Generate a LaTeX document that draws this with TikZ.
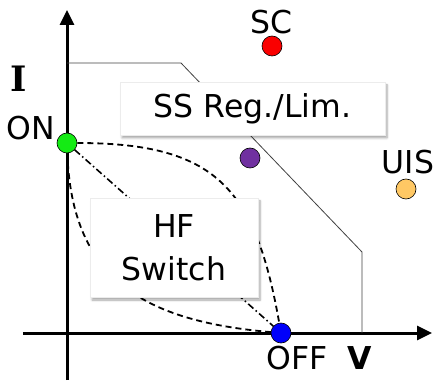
\documentclass[tikz,border=0pt]{standalone}
\usepackage{fontspec}
\setmainfont{DejaVu Sans}
\newfontfamily\serifbf{DejaVu Serif}
\usetikzlibrary{arrows.meta,shadows.blur}
\definecolor{verdeon}{RGB}{20,235,20}
\definecolor{rojosc}{RGB}{250,0,0}
\definecolor{moradoss}{RGB}{112,48,160}
\definecolor{naranjauis}{RGB}{255,200,100}
\definecolor{azuloff}{RGB}{0,0,250}
\begin{document}
\begin{tikzpicture}[x=1pt, y=1pt,
    estado/.style={draw, circle, minimum size=20pt, inner sep=0pt, line width=0.6pt},
    texto/.style={font=\fontsize{31.5}{36}\selectfont, inner sep=0pt},
    caja/.style={fill=white, draw=gray!15, inner sep=0pt, align=center,
        font=\fontsize{31.5}{43}\selectfont,
        blur shadow={shadow xshift=2pt, shadow yshift=-3pt, shadow blur steps=6, shadow opacity=35}},
    trayecto/.style={line width=1.8pt, dash pattern=on 6pt off 4pt},
    >={Triangle[length=15pt, width=14pt]}]
    \useasboundingbox (-67,-47) rectangle (369,333);

    % Ejes
    \draw[->, line width=3pt] (0,-47) -- (0,323);
    \draw[->, line width=3pt] (-44,0) -- (365,0);
    \node[texto, font=\fontsize{35}{40}\selectfont] (ejeI) at (-48,254) {\serifbf\bfseries I};
    \node[texto] (ejeV) at (293,-25) {\bfseries V};

    % Curva limite
    \draw[black!75, line width=0.8pt] (0,270) -- (114,270) -- (295,81) -- (295,0);

    % Caja SS
    \node[caja, minimum width=265pt, minimum height=53pt] (ss) at (185.5,224.5) {SS Reg./Lim.};

    % Estados
    \node[estado, fill=verdeon] (on) at (0,190) {};
    \node[estado, fill=azuloff] (off) at (214,0) {};
    \node[estado, fill=rojosc] (sc) at (205,287) {};
    \node[estado, fill=moradoss] (reg) at (183,175) {};
    \node[estado, fill=naranjauis] (uis) at (339,144) {};

    % Trayectos de conmutacion
    \draw[trayecto] (on) to[out=0, in=100, looseness=1.3] (off);
    \draw[trayecto] (on) to[out=-88, in=175, looseness=1.2] (off);
    \draw[line width=1.6pt, dash pattern=on 7pt off 3pt on 1.5pt off 3pt] (on) -- (off);

    % Caja HF
    \node[caja, minimum width=168pt, minimum height=99pt] (hf) at (107,85.5) {HF\\Switch};

    % Etiquetas
    \node[texto] (lon) at (-36,205) {ON};
    \node[texto] (loff) at (230,-25) {OFF};
    \node[texto] (lsc) at (204,311) {SC};
    \node[texto] (luis) at (341,171) {UIS};
\end{tikzpicture}
\end{document}
